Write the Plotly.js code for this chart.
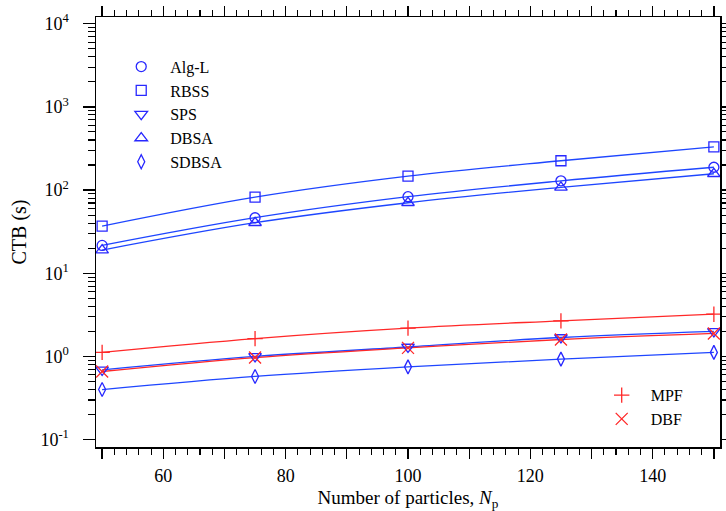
<!DOCTYPE html>
<html>
<head>
<meta charset="utf-8">
<script src="https://cdn.plot.ly/plotly-3.0.1.min.js"></script>
<style>html,body{margin:0;padding:0;background:#fff;}#chart{width:726px;height:511px;}</style>
</head>
<body>
<div id="chart"></div>
<script>
// Data
var Np    = [50, 75, 100, 125, 150];
var AlgL  = [21.6, 46.5, 83.2, 129, 188];
var RBSS  = [36.9, 82.2, 147, 225, 331];
var SPS   = [0.69, 1.0, 1.30, 1.69, 2.0];
var DBSA  = [19.0, 40.5, 70.4, 108, 157];
var SDBSA = [0.40, 0.575, 0.75, 0.93, 1.12];
var MPF   = [1.12, 1.64, 2.19, 2.68, 3.22];
var DBF   = [0.66, 0.97, 1.27, 1.60, 1.89];

var xTickVals = [50, 60, 70, 80, 90, 100, 110, 120, 130, 140, 150];
var xTickText = ['', '60', '', '80', '', '100', '', '120', '', '140', ''];
var yTickVals = [0.1, 1, 10, 100, 1000, 10000];
var yTickText = ['10<sup>-1</sup>', '10<sup>0</sup>', '10<sup>1</sup>', '10<sup>2</sup>', '10<sup>3</sup>', '10<sup>4</sup>'];

var BLUE_LINE = 'rgb(30,70,255)';
var BLUE_MK = 'rgb(40,40,255)';
var RED = 'rgb(255,40,40)';
var FONT = 'Liberation Serif, Times New Roman, serif';

var yMinor = [];
for (var e = -1; e < 4; e++) { for (var d = 2; d <= 9; d++) { yMinor.push(d * Math.pow(10, e)); } }

var series = [
  {name: 'Alg-L', y: AlgL, sym: 'circle-open', size: 10, color: BLUE_MK, lc: BLUE_LINE, legend: 'legend'},
  {name: 'RBSS', y: RBSS, sym: 'square-open', size: 10, color: BLUE_MK, lc: BLUE_LINE, legend: 'legend'},
  {name: 'SPS', y: SPS, sym: 'triangle-down-open', size: 11, color: BLUE_MK, lc: BLUE_LINE, legend: 'legend'},
  {name: 'DBSA', y: DBSA, sym: 'triangle-up-open', size: 11, color: BLUE_MK, lc: BLUE_LINE, legend: 'legend'},
  {name: 'SDBSA', y: SDBSA, sym: 'diamond-tall-open', size: 10, color: BLUE_MK, lc: BLUE_LINE, legend: 'legend'},
  {name: 'MPF', y: MPF, sym: 'cross-thin-open', size: 11, color: RED, lc: RED, legend: 'legend2'},
  {name: 'DBF', y: DBF, sym: 'x-thin-open', size: 12, color: RED, lc: RED, legend: 'legend2'}
];

var traces = [];
series.forEach(function (s) {
  traces.push({x: Np, y: s.y, type: 'scatter', mode: 'lines', showlegend: false,
    line: {color: s.lc, width: 1.3, shape: 'spline', smoothing: 1}, hoverinfo: 'skip'});
});
series.forEach(function (s) {
  traces.push({x: Np, y: s.y, type: 'scatter', mode: 'markers', name: s.name, legend: s.legend,
    marker: {symbol: s.sym, size: s.size, color: s.color, line: {color: s.color, width: 1.3}}});
});

var layout = {
  width: 726, height: 511,
  margin: {l: 96, r: 6, t: 17, b: 64, pad: 0},
  paper_bgcolor: '#fff', plot_bgcolor: '#fff',
  font: {family: FONT, color: '#000', size: 18},
  xaxis: {
    range: [49, 151], showgrid: false, zeroline: false,
    showline: true, linecolor: '#000', linewidth: 1.5, mirror: 'ticks',
    ticks: 'outside', ticklen: 10, tickwidth: 1.3, tickcolor: '#000',
    tickmode: 'array', tickvals: xTickVals, ticktext: xTickText,
    ticklabelstandoff: 2,
    tickfont: {family: FONT, size: 18, color: '#000'},
    minor: {tickmode: 'linear', tick0: 50, dtick: 2, ticks: 'outside', ticklen: 6, tickwidth: 1.1, tickcolor: '#000', showgrid: false},
    title: {text: 'Number of particles, <i>N</i><sub>p</sub>', font: {family: FONT, size: 19, color: '#000'}, standoff: 11}
  },
  yaxis: {
    type: 'log', range: [-1.088, 4.08], showgrid: false, zeroline: false,
    showline: true, linecolor: '#000', linewidth: 1.5, mirror: 'ticks',
    ticks: 'outside', ticklen: 12, tickwidth: 1.3, tickcolor: '#000',
    tickmode: 'array', tickvals: yTickVals, ticktext: yTickText,
    ticklabelstandoff: 10,
    tickfont: {family: FONT, size: 18, color: '#000'},
    minor: {tickmode: 'array', tickvals: yMinor, ticks: 'outside', ticklen: 7, tickwidth: 1.1, tickcolor: '#000', showgrid: false},
    title: {text: 'CTB (s)', font: {family: FONT, size: 20, color: '#000'}, standoff: 8}
  },
  legend: {
    x: 0.026, y: 0.924, xanchor: 'left', yanchor: 'top',
    bgcolor: 'rgba(0,0,0,0)', borderwidth: 0, itemwidth: 48,
    font: {family: FONT, size: 16, color: '#000'}
  },
  legend2: {
    x: 0.796, y: 0.160, xanchor: 'left', yanchor: 'top',
    bgcolor: 'rgba(0,0,0,0)', borderwidth: 0, itemwidth: 48,
    font: {family: FONT, size: 16, color: '#000'}
  }
};

Plotly.newPlot('chart', traces, layout, {displayModeBar: false, staticPlot: true});
</script>
</body>
</html>
